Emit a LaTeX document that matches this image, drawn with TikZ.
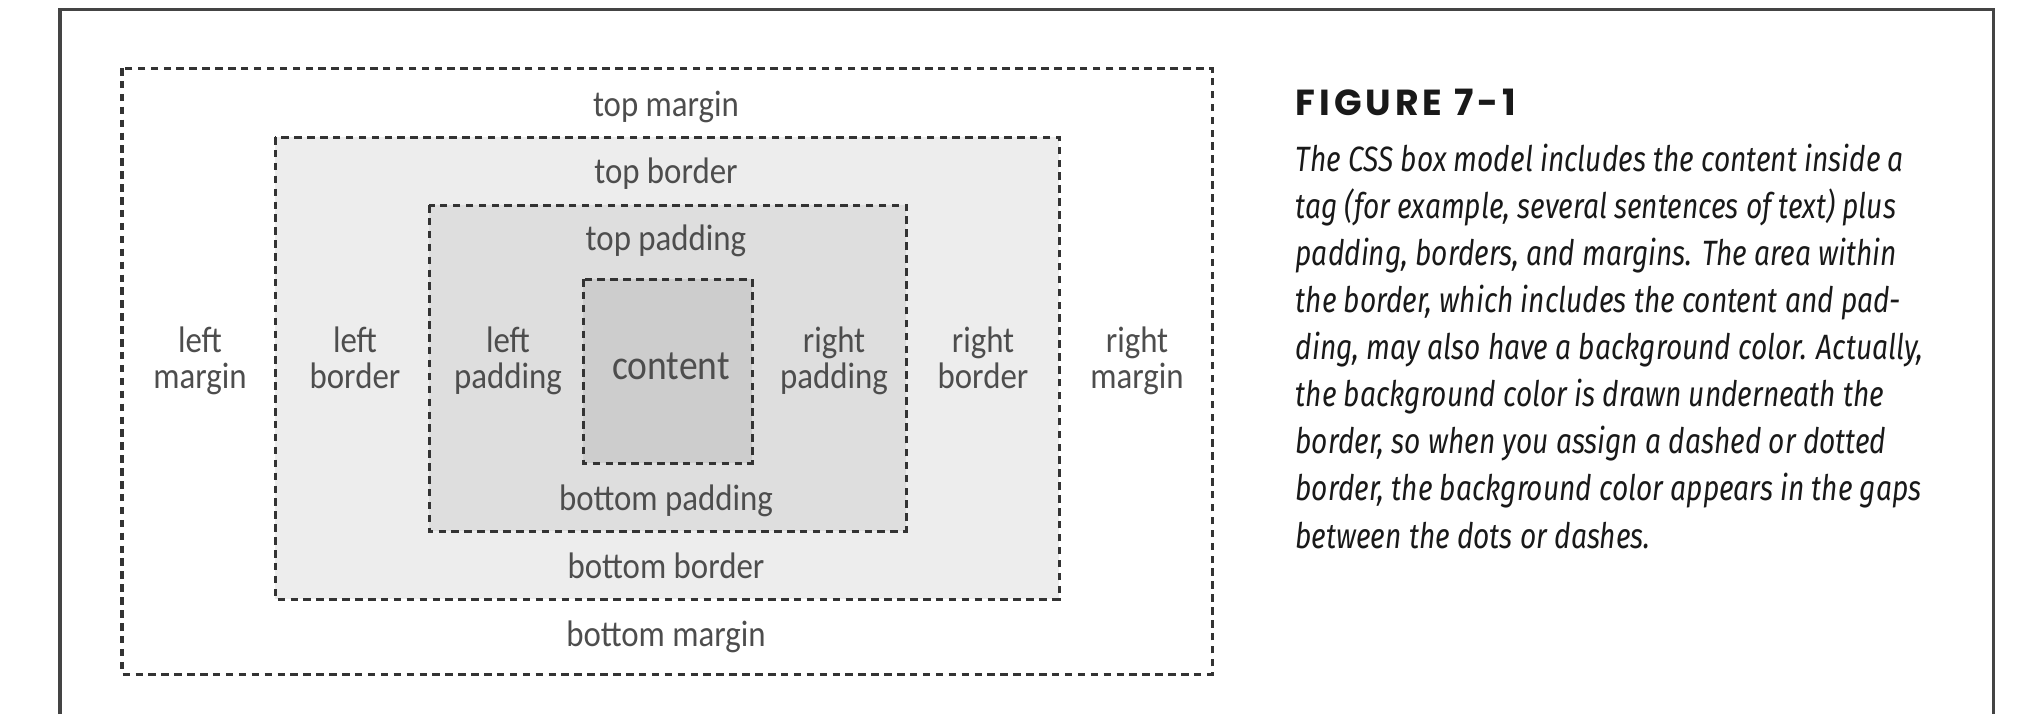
\documentclass[tikz,border=0pt]{standalone}
\usepackage{fontspec}
\usepackage{xcolor}
\usetikzlibrary{positioning}
\newfontfamily\labelfont{Carlito}[FakeStretch=0.89]
\newfontfamily\capfont{Fira Sans}[FakeStretch=0.80]
\newfontfamily\figfont{Poppins}[LetterSpace=11]
\definecolor{bordergray}{HTML}{EDEDED}
\definecolor{paddinggray}{HTML}{DEDEDE}
\definecolor{contentgray}{HTML}{CDCDCD}
\definecolor{linegray}{HTML}{333333}
\definecolor{textgray}{HTML}{4D4D4D}
\definecolor{framegray}{HTML}{444444}
\tikzset{
	boxline/.style={draw=linegray, line width=0.03cm, dash pattern=on 0.075cm off 0.054cm},
	boxlabel/.style={text=textgray, font=\labelfont\fontsize{10.5pt}{10.2pt}\selectfont, inner sep=0pt, align=center, anchor=base},
	figtitle/.style={text=black!90, font=\figfont\bfseries\fontsize{10.3pt}{12pt}\selectfont, inner sep=0pt, anchor=base west},
	captext/.style={text=black!90, font=\capfont\itshape\fontsize{10pt}{13.4pt}\selectfont, inner sep=0pt, align=left, anchor=base west},
}
\begin{document}
\begin{tikzpicture}[x=0.01cm, y=-0.01cm]
		\useasboundingbox (0,0) rectangle (2044,714);

		\coordinate (M1) at (122,68);
		\coordinate (M2) at (1212,674);
		\coordinate (B1) at (275,137);
		\coordinate (B2) at (1059,599);
		\coordinate (P1) at (429,205);
		\coordinate (P2) at (906,531);
		\coordinate (C1) at (583,279);
		\coordinate (C2) at (752,463);

		\draw [framegray, line width=0.03cm] (60,714) -- (60,9) -- (1993,9) -- (1993,714);

		\fill [bordergray] (B1) rectangle (B2);
		\fill [paddinggray] (P1) rectangle (P2);
		\fill [contentgray] (C1) rectangle (C2);

		\draw [boxline] (M1) rectangle (M2);
		\draw [boxline] (B1) rectangle (B2);
		\draw [boxline] (P1) rectangle (P2);
		\draw [boxline] (C1) rectangle (C2);

		\node [boxlabel] (topmargin) at (666,116) {top margin};
		\node [boxlabel] (topborder) at (666,183) {top border};
		\node [boxlabel] (toppadding) at (666,250) {top padding};
		\node [boxlabel] (bottompadding) at (666,510) {bottom padding};
		\node [boxlabel] (bottomborder) at (666,578) {bottom border};
		\node [boxlabel] (bottommargin) at (666,646) {bottom margin};

		% two-line labels sit on their last baseline
		\node [boxlabel] (leftmargin) at (200,388) {left\\margin};
		\node [boxlabel] (leftborder) at (355,388) {left\\border};
		\node [boxlabel] (leftpadding) at (508,388) {left\\padding};
		\node [boxlabel, font=\labelfont\fontsize{12pt}{12pt}\selectfont] (content) at (671,379) {content};
		\node [boxlabel] (rightpadding) at (834,388) {right\\padding};
		\node [boxlabel] (rightborder) at (983,388) {right\\border};
		\node [boxlabel] (rightmargin) at (1137,388) {right\\margin};

		\node [figtitle] (title) at (1295,115) {FIGURE 7-1};
		\node [captext] (caption) at (1295,548) {The CSS box model includes the content inside a\\
			tag (for example, several sentences of text) plus\\
			padding, borders, and margins. The area within\\
			the border, which includes the content and pad-\\
			ding, may also have a background color. Actually,\\
			the background color is drawn underneath the\\
			border, so when you assign a dashed or dotted\\
			border, the background color appears in the gaps\\
			between the dots or dashes.};
	\end{tikzpicture}
\end{document}
